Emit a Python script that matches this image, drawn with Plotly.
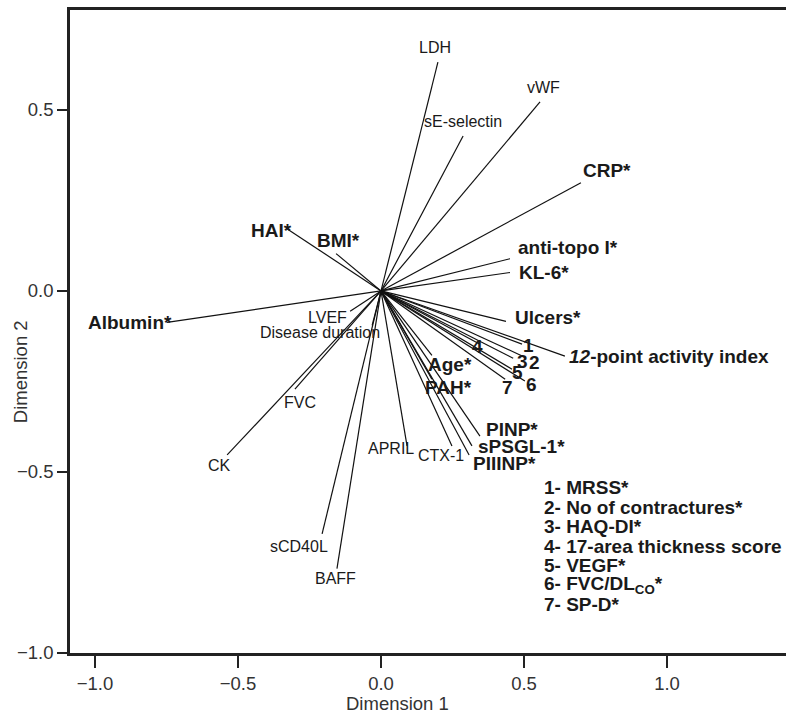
import plotly.graph_objects as go

# ---- data: variable loadings (Dimension 1, Dimension 2) ----
names = ["LDH", "vWF", "sE-selectin", "CRP*", "anti-topo I*", "KL-6*", "Ulcers*",
         "12-point activity index", "1", "2", "3", "4", "5", "6", "7",
         "Age*", "PAH*", "PINP*", "sPSGL-1*", "PIIINP*", "CTX-1", "APRIL",
         "CK", "FVC", "sCD40L", "BAFF", "HAI*", "BMI*", "Albumin*",
         "LVEF", "Disease duration"]
dim1 = [0.199, 0.556, 0.287, 0.699, 0.451, 0.451, 0.437,
        0.643, 0.493, 0.503, 0.462, 0.346, 0.458, 0.503, 0.434,
        0.178, 0.178, 0.346, 0.318, 0.308, 0.248, 0.091,
        -0.538, -0.301, -0.206, -0.154, -0.329, -0.157, -0.748,
        -0.108, -0.031]
dim2 = [0.632, 0.522, 0.428, 0.299, 0.089, 0.051, -0.084,
        -0.180, -0.147, -0.183, -0.186, -0.147, -0.216, -0.249, -0.244,
        -0.178, -0.244, -0.401, -0.428, -0.453, -0.428, -0.428,
        -0.453, -0.271, -0.671, -0.767, 0.172, 0.103, -0.087,
        -0.056, -0.095]
significant = [False, False, False, True, True, True, True,
               True, True, True, True, True, True, True, True,
               True, True, True, True, True, False, False,
               False, False, False, False, True, True, True,
               False, False]

legend_lines = ["1- MRSS*", "2- No of contractures*", "3- HAQ-DI*",
                "4- 17-area thickness score", "5- VEGF*",
                "6- FVC/DL<sub>CO</sub>*", "7- SP-D*"]

x_ticks = [-1.0, -0.5, 0.0, 0.5, 1.0]
y_ticks = [-1.0, -0.5, 0.0, 0.5]

# ---- label placement (pixel offsets from line end: xanchor, dx, dy-down) ----
label_pos = {
    "LDH": ("center", -3, -15), "vWF": ("center", 3, -14),
    "sE-selectin": ("center", 0, -14), "CRP*": ("left", 1, -12),
    "anti-topo I*": ("left", 7, -11), "KL-6*": ("left", 8, 0),
    "Ulcers*": ("left", 8, -4), "12-point activity index": ("left", 3, 0),
    "1": ("center", 6, 1), "2": ("center", 10, 5), "3": ("center", 9, 3),
    "4": ("center", -2, 2), "5": ("center", 5, 3), "6": ("center", 7, 3),
    "7": ("center", 2, 8), "Age*": ("center", 18, 9), "PAH*": ("center", 17, 8),
    "PINP*": ("left", 5, -7), "sPSGL-1*": ("left", 5, 1), "PIIINP*": ("left", 3, 9),
    "CTX-1": ("center", -11, 10), "APRIL": ("center", -16, 3),
    "CK": ("center", -8, 11), "FVC": ("center", 5, 13),
    "sCD40L": ("center", -23, 13), "BAFF": ("center", -1, 10),
    "HAI*": ("right", 6, 2), "BMI*": ("center", 2, -13),
    "Albumin*": ("right", 6, 0), "LVEF": ("center", -23, 6),
    "Disease duration": ("center", -52, 7),
}

FONT = "Arial, Liberation Sans, sans-serif"

lx, ly = [], []
for a, b in zip(dim1, dim2):
    lx += [0, a, None]
    ly += [0, b, None]

fig = go.Figure()
fig.add_trace(go.Scatter(x=lx, y=ly, mode="lines",
                         line=dict(color="#111111", width=1.2),
                         hoverinfo="skip", showlegend=False))

annotations = []
for n, a, b, sig in zip(names, dim1, dim2, significant):
    anc, dx, dy = label_pos[n]
    if n == "12-point activity index":
        txt = "<b><i>12</i>-point activity index</b>"
    else:
        txt = f"<b>{n}</b>" if sig else n
    annotations.append(dict(
        x=a, y=b, xref="x", yref="y", text=txt, showarrow=False,
        xanchor=anc, yanchor="middle", xshift=dx, yshift=-dy,
        font=dict(family=FONT, size=19 if sig else 16, color="#1a1a1a"),
        borderpad=0))

for i, t in enumerate(legend_lines):
    annotations.append(dict(
        x=0.566, y=-0.544, xref="x", yref="y", text=f"<b>{t}</b>",
        showarrow=False, xanchor="left", yanchor="middle", yshift=-19.4 * i,
        font=dict(family=FONT, size=19, color="#1a1a1a"), borderpad=0))

annotations.append(dict(x=0.056, y=0, xref="x", yref="paper", text="Dimension 1",
                        showarrow=False, xanchor="center", yanchor="middle", yshift=-50,
                        font=dict(family=FONT, size=18.5, color="#333333")))
annotations.append(dict(x=0, y=-0.2245, xref="paper", yref="y", text="Dimension 2",
                        showarrow=False, xanchor="center", yanchor="middle", xshift=-50,
                        textangle=-90, font=dict(family=FONT, size=18.5, color="#333333")))

fig.update_layout(
    width=786, height=714,
    margin=dict(l=70, r=0, t=10, b=61),
    paper_bgcolor="white", plot_bgcolor="white",
    annotations=annotations,
    hovermode=False,
    xaxis=dict(range=[-1.0874, 1.416], tickvals=x_ticks, tickformat=".1f",
               showgrid=False, zeroline=False, showline=True, linecolor="#222222",
               linewidth=2.5, mirror=True, ticks="outside", ticklen=12, tickwidth=2,
               tickcolor="#222222",
               tickfont=dict(family=FONT, size=18.5, color="#333333")),
    yaxis=dict(range=[-1.0, 0.776], tickvals=y_ticks, tickformat=".1f",
               showgrid=False, zeroline=False, showline=True, linecolor="#222222",
               linewidth=2.5, mirror=False, ticks="outside", ticklen=10, tickwidth=2,
               tickcolor="#222222",
               tickfont=dict(family=FONT, size=18.5, color="#333333")),
)

fig.write_html("out.html", config=dict(displayModeBar=False))
